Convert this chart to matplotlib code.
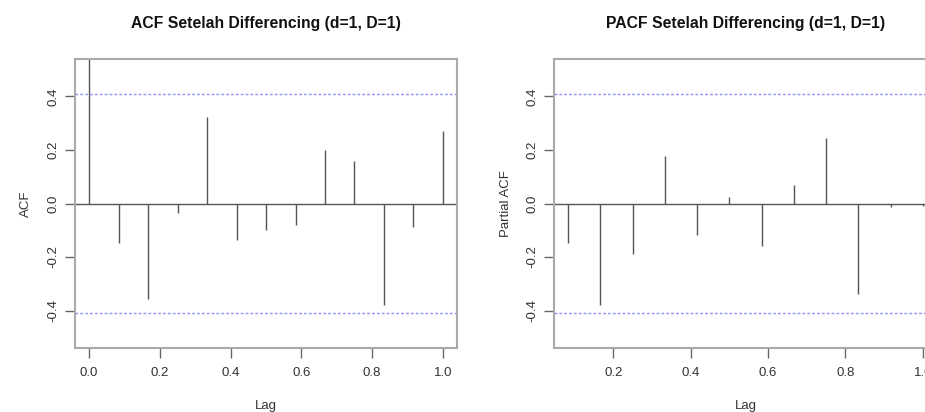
import matplotlib
matplotlib.use("Agg")
import matplotlib.pyplot as plt

plt.rcParams['font.family'] = ['Liberation Sans', 'DejaVu Sans']

# lags in years (monthly series, 12 lags)
acf_lags = [k / 12 for k in range(13)]
acf_vals = [1.0, -0.147, -0.355, -0.034, 0.325, -0.138, -0.100, -0.082,
            0.201, 0.158, -0.380, -0.089, 0.270]

pacf_lags = [k / 12 for k in range(1, 13)]
pacf_vals = [-0.147, -0.381, -0.189, 0.176, -0.119, 0.026, -0.160, 0.071,
             0.245, -0.337, -0.012, -0.010]

ci = 0.408
titles = ['ACF Setelah Differencing (d=1, D=1)', 'PACF Setelah Differencing (d=1, D=1)']
ylabels = ['ACF', 'Partial ACF']

fig = plt.figure(figsize=(9.25, 4.12), dpi=100)
ax1 = fig.add_axes([0.0811, 0.1553, 0.413, 0.7015])
ax2 = fig.add_axes([0.599, 0.1553, 0.414, 0.7015])


def r_pad(lo, hi):
    d = (hi - lo) * 0.04
    return lo - d, hi + d


for ax, lags, vals, title, ylab in [(ax1, acf_lags, acf_vals, titles[0], ylabels[0]),
                                    (ax2, pacf_lags, pacf_vals, titles[1], ylabels[1])]:
    ax.vlines(lags, 0, vals, color='#555555', linewidth=1.0)
    ax.axhline(0, color='#555555', linewidth=1.0)
    ax.axhline(ci, color='#9090ff', linewidth=1.0, linestyle=(0, (2, 1.5)))
    ax.axhline(-ci, color='#9090ff', linewidth=1.0, linestyle=(0, (2, 1.5)))
    ax.set_xticks([0.0, 0.2, 0.4, 0.6, 0.8, 1.0])
    ax.set_xticklabels(['0.0', '0.2', '0.4', '0.6', '0.8', '1.0'])
    ax.set_yticks([-0.4, -0.2, 0.0, 0.2, 0.4])
    ax.set_yticklabels(['-0.4', '-0.2', '0.0', '0.2', '0.4'], rotation=90, va='center')
    # limits after the ticks so set_xticks does not widen the view
    ax.set_xlim(*r_pad(lags[0], lags[-1]))
    ax.set_ylim(*r_pad(-0.5, 0.5))
    for s in ax.spines.values():
        s.set_color('#aaaaaa')
        s.set_linewidth(1.5)
    ax.tick_params(direction='out', length=7, width=1.0, color='#666666',
                   labelsize=9.5, labelcolor='#333333')
    ax.tick_params(axis='x', pad=7)
    ax.tick_params(axis='y', pad=4)
    ax.set_title(title, fontsize=11.3, fontweight='bold', pad=22, color='#111111')
    ax.set_xlabel('Lag', fontsize=9.5, labelpad=15, color='#333333')
    ax.set_ylabel(ylab, fontsize=9.5, labelpad=11, color='#333333')

fig.savefig('out.png', dpi=100)
